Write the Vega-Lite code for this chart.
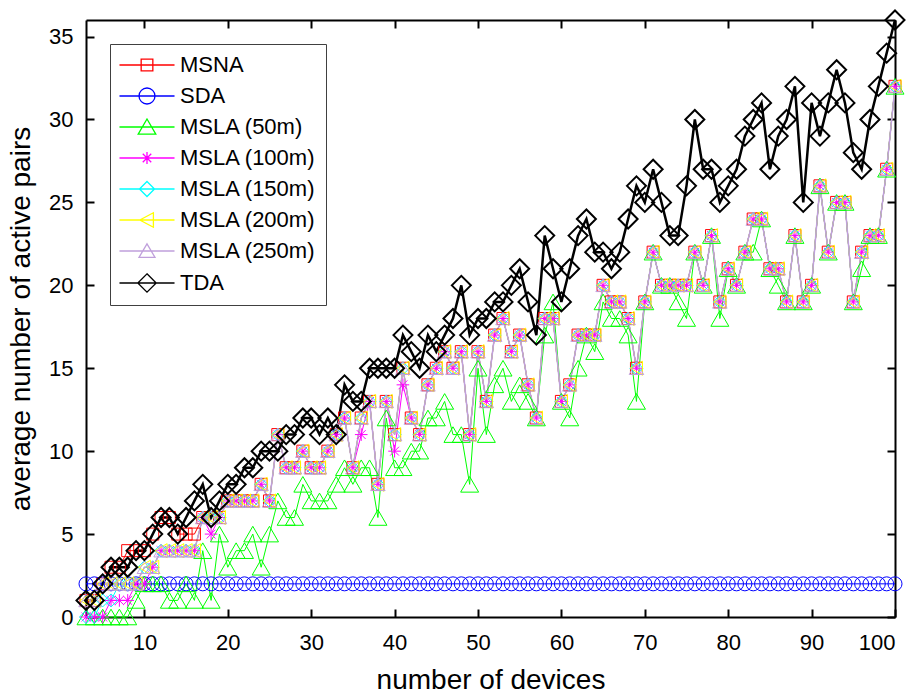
{
  "$schema": "https://vega.github.io/schema/vega-lite/v6.json",
  "width": 809,
  "height": 597,
  "autosize": {"type": "none"},
  "padding": {"left": 86, "top": 20, "right": 26, "bottom": 77},
  "background": "white",
  "config": {
    "view": {"stroke": null},
    "font": "Liberation Sans",
    "axis": {
      "domainColor": "black", "domainWidth": 2, "tickColor": "black", "tickWidth": 2, "tickSize": -8,
      "labelColor": "black", "labelFontSize": 22, "labelFont": "Liberation Sans", "grid": false,
      "titleFont": "Liberation Sans", "titleFontSize": 28, "titleFontWeight": "normal", "titleColor": "black"
    },
    "legend": {
      "orient": "none", "legendX": 24, "legendY": 24, "direction": "vertical",
      "labelFontSize": 22, "labelFont": "Liberation Sans", "labelColor": "black", "labelLimit": 400,
      "symbolSize": 256, "symbolOffset": 16, "labelOffset": 22, "padding": 10, "rowPadding": 9,
      "fillColor": "white", "strokeColor": "#404040", "symbolStrokeWidth": 1.3, "symbolOpacity": 1
    }
  },
  "data": {"values": [
{"n":3,"s":"MSNA","v":1},{"n":4,"s":"MSNA","v":1},{"n":5,"s":"MSNA","v":2},{"n":6,"s":"MSNA","v":3},{"n":7,"s":"MSNA","v":3},{"n":8,"s":"MSNA","v":4},{"n":9,"s":"MSNA","v":4},{"n":10,"s":"MSNA","v":4},{"n":11,"s":"MSNA","v":5},{"n":12,"s":"MSNA","v":6},{"n":13,"s":"MSNA","v":6},{"n":14,"s":"MSNA","v":5},{"n":15,"s":"MSNA","v":5},{"n":16,"s":"MSNA","v":5},{"n":17,"s":"MSNA","v":6},{"n":18,"s":"MSNA","v":6},{"n":19,"s":"MSNA","v":6},{"n":20,"s":"MSNA","v":7},{"n":21,"s":"MSNA","v":7},{"n":22,"s":"MSNA","v":7},{"n":23,"s":"MSNA","v":7},{"n":24,"s":"MSNA","v":8},{"n":25,"s":"MSNA","v":7},{"n":26,"s":"MSNA","v":11},{"n":27,"s":"MSNA","v":9},{"n":28,"s":"MSNA","v":9},{"n":29,"s":"MSNA","v":10},{"n":30,"s":"MSNA","v":9},{"n":31,"s":"MSNA","v":9},{"n":32,"s":"MSNA","v":10},{"n":33,"s":"MSNA","v":11},{"n":34,"s":"MSNA","v":12},{"n":35,"s":"MSNA","v":9},{"n":36,"s":"MSNA","v":12},{"n":37,"s":"MSNA","v":13},{"n":38,"s":"MSNA","v":8},{"n":39,"s":"MSNA","v":13},{"n":40,"s":"MSNA","v":11},{"n":41,"s":"MSNA","v":15},{"n":42,"s":"MSNA","v":12},{"n":43,"s":"MSNA","v":11},{"n":44,"s":"MSNA","v":14},{"n":45,"s":"MSNA","v":15},{"n":46,"s":"MSNA","v":16},{"n":47,"s":"MSNA","v":15},{"n":48,"s":"MSNA","v":16},{"n":49,"s":"MSNA","v":11},{"n":50,"s":"MSNA","v":16},{"n":51,"s":"MSNA","v":13},{"n":52,"s":"MSNA","v":17},{"n":53,"s":"MSNA","v":18},{"n":54,"s":"MSNA","v":16},{"n":55,"s":"MSNA","v":17},{"n":56,"s":"MSNA","v":14},{"n":57,"s":"MSNA","v":12},{"n":58,"s":"MSNA","v":18},{"n":59,"s":"MSNA","v":18},{"n":60,"s":"MSNA","v":13},{"n":61,"s":"MSNA","v":14},{"n":62,"s":"MSNA","v":17},{"n":63,"s":"MSNA","v":17},{"n":64,"s":"MSNA","v":17},{"n":65,"s":"MSNA","v":20},{"n":66,"s":"MSNA","v":19},{"n":67,"s":"MSNA","v":19},{"n":68,"s":"MSNA","v":18},{"n":69,"s":"MSNA","v":15},{"n":70,"s":"MSNA","v":19},{"n":71,"s":"MSNA","v":22},{"n":72,"s":"MSNA","v":20},{"n":73,"s":"MSNA","v":20},{"n":74,"s":"MSNA","v":20},{"n":75,"s":"MSNA","v":20},{"n":76,"s":"MSNA","v":22},{"n":77,"s":"MSNA","v":20},{"n":78,"s":"MSNA","v":23},{"n":79,"s":"MSNA","v":19},{"n":80,"s":"MSNA","v":21},{"n":81,"s":"MSNA","v":20},{"n":82,"s":"MSNA","v":22},{"n":83,"s":"MSNA","v":24},{"n":84,"s":"MSNA","v":24},{"n":85,"s":"MSNA","v":21},{"n":86,"s":"MSNA","v":21},{"n":87,"s":"MSNA","v":19},{"n":88,"s":"MSNA","v":23},{"n":89,"s":"MSNA","v":19},{"n":90,"s":"MSNA","v":20},{"n":91,"s":"MSNA","v":26},{"n":92,"s":"MSNA","v":22},{"n":93,"s":"MSNA","v":25},{"n":94,"s":"MSNA","v":25},{"n":95,"s":"MSNA","v":19},{"n":96,"s":"MSNA","v":22},{"n":97,"s":"MSNA","v":23},{"n":98,"s":"MSNA","v":23},{"n":99,"s":"MSNA","v":27},{"n":100,"s":"MSNA","v":32},
{"n":3,"s":"SDA","v":2},{"n":4,"s":"SDA","v":2},{"n":5,"s":"SDA","v":2},{"n":6,"s":"SDA","v":2},{"n":7,"s":"SDA","v":2},{"n":8,"s":"SDA","v":2},{"n":9,"s":"SDA","v":2},{"n":10,"s":"SDA","v":2},{"n":11,"s":"SDA","v":2},{"n":12,"s":"SDA","v":2},{"n":13,"s":"SDA","v":2},{"n":14,"s":"SDA","v":2},{"n":15,"s":"SDA","v":2},{"n":16,"s":"SDA","v":2},{"n":17,"s":"SDA","v":2},{"n":18,"s":"SDA","v":2},{"n":19,"s":"SDA","v":2},{"n":20,"s":"SDA","v":2},{"n":21,"s":"SDA","v":2},{"n":22,"s":"SDA","v":2},{"n":23,"s":"SDA","v":2},{"n":24,"s":"SDA","v":2},{"n":25,"s":"SDA","v":2},{"n":26,"s":"SDA","v":2},{"n":27,"s":"SDA","v":2},{"n":28,"s":"SDA","v":2},{"n":29,"s":"SDA","v":2},{"n":30,"s":"SDA","v":2},{"n":31,"s":"SDA","v":2},{"n":32,"s":"SDA","v":2},{"n":33,"s":"SDA","v":2},{"n":34,"s":"SDA","v":2},{"n":35,"s":"SDA","v":2},{"n":36,"s":"SDA","v":2},{"n":37,"s":"SDA","v":2},{"n":38,"s":"SDA","v":2},{"n":39,"s":"SDA","v":2},{"n":40,"s":"SDA","v":2},{"n":41,"s":"SDA","v":2},{"n":42,"s":"SDA","v":2},{"n":43,"s":"SDA","v":2},{"n":44,"s":"SDA","v":2},{"n":45,"s":"SDA","v":2},{"n":46,"s":"SDA","v":2},{"n":47,"s":"SDA","v":2},{"n":48,"s":"SDA","v":2},{"n":49,"s":"SDA","v":2},{"n":50,"s":"SDA","v":2},{"n":51,"s":"SDA","v":2},{"n":52,"s":"SDA","v":2},{"n":53,"s":"SDA","v":2},{"n":54,"s":"SDA","v":2},{"n":55,"s":"SDA","v":2},{"n":56,"s":"SDA","v":2},{"n":57,"s":"SDA","v":2},{"n":58,"s":"SDA","v":2},{"n":59,"s":"SDA","v":2},{"n":60,"s":"SDA","v":2},{"n":61,"s":"SDA","v":2},{"n":62,"s":"SDA","v":2},{"n":63,"s":"SDA","v":2},{"n":64,"s":"SDA","v":2},{"n":65,"s":"SDA","v":2},{"n":66,"s":"SDA","v":2},{"n":67,"s":"SDA","v":2},{"n":68,"s":"SDA","v":2},{"n":69,"s":"SDA","v":2},{"n":70,"s":"SDA","v":2},{"n":71,"s":"SDA","v":2},{"n":72,"s":"SDA","v":2},{"n":73,"s":"SDA","v":2},{"n":74,"s":"SDA","v":2},{"n":75,"s":"SDA","v":2},{"n":76,"s":"SDA","v":2},{"n":77,"s":"SDA","v":2},{"n":78,"s":"SDA","v":2},{"n":79,"s":"SDA","v":2},{"n":80,"s":"SDA","v":2},{"n":81,"s":"SDA","v":2},{"n":82,"s":"SDA","v":2},{"n":83,"s":"SDA","v":2},{"n":84,"s":"SDA","v":2},{"n":85,"s":"SDA","v":2},{"n":86,"s":"SDA","v":2},{"n":87,"s":"SDA","v":2},{"n":88,"s":"SDA","v":2},{"n":89,"s":"SDA","v":2},{"n":90,"s":"SDA","v":2},{"n":91,"s":"SDA","v":2},{"n":92,"s":"SDA","v":2},{"n":93,"s":"SDA","v":2},{"n":94,"s":"SDA","v":2},{"n":95,"s":"SDA","v":2},{"n":96,"s":"SDA","v":2},{"n":97,"s":"SDA","v":2},{"n":98,"s":"SDA","v":2},{"n":99,"s":"SDA","v":2},{"n":100,"s":"SDA","v":2},
{"n":3,"s":"MSLA (50m)","v":0},{"n":4,"s":"MSLA (50m)","v":0},{"n":5,"s":"MSLA (50m)","v":0},{"n":6,"s":"MSLA (50m)","v":0},{"n":7,"s":"MSLA (50m)","v":0},{"n":8,"s":"MSLA (50m)","v":0},{"n":9,"s":"MSLA (50m)","v":1},{"n":10,"s":"MSLA (50m)","v":2},{"n":11,"s":"MSLA (50m)","v":2},{"n":12,"s":"MSLA (50m)","v":2},{"n":13,"s":"MSLA (50m)","v":1},{"n":14,"s":"MSLA (50m)","v":1},{"n":15,"s":"MSLA (50m)","v":2},{"n":16,"s":"MSLA (50m)","v":1},{"n":17,"s":"MSLA (50m)","v":4},{"n":18,"s":"MSLA (50m)","v":1},{"n":19,"s":"MSLA (50m)","v":5},{"n":20,"s":"MSLA (50m)","v":3},{"n":21,"s":"MSLA (50m)","v":4},{"n":22,"s":"MSLA (50m)","v":4},{"n":23,"s":"MSLA (50m)","v":5},{"n":24,"s":"MSLA (50m)","v":3},{"n":25,"s":"MSLA (50m)","v":5},{"n":26,"s":"MSLA (50m)","v":7},{"n":27,"s":"MSLA (50m)","v":6},{"n":28,"s":"MSLA (50m)","v":6},{"n":29,"s":"MSLA (50m)","v":8},{"n":30,"s":"MSLA (50m)","v":7},{"n":31,"s":"MSLA (50m)","v":7},{"n":32,"s":"MSLA (50m)","v":7},{"n":33,"s":"MSLA (50m)","v":8},{"n":34,"s":"MSLA (50m)","v":9},{"n":35,"s":"MSLA (50m)","v":8},{"n":36,"s":"MSLA (50m)","v":9},{"n":37,"s":"MSLA (50m)","v":9},{"n":38,"s":"MSLA (50m)","v":6},{"n":39,"s":"MSLA (50m)","v":12},{"n":40,"s":"MSLA (50m)","v":9},{"n":41,"s":"MSLA (50m)","v":9},{"n":42,"s":"MSLA (50m)","v":10},{"n":43,"s":"MSLA (50m)","v":10},{"n":44,"s":"MSLA (50m)","v":12},{"n":45,"s":"MSLA (50m)","v":12},{"n":46,"s":"MSLA (50m)","v":13},{"n":47,"s":"MSLA (50m)","v":11},{"n":48,"s":"MSLA (50m)","v":11},{"n":49,"s":"MSLA (50m)","v":8},{"n":50,"s":"MSLA (50m)","v":15},{"n":51,"s":"MSLA (50m)","v":11},{"n":52,"s":"MSLA (50m)","v":14},{"n":53,"s":"MSLA (50m)","v":15},{"n":54,"s":"MSLA (50m)","v":13},{"n":55,"s":"MSLA (50m)","v":14},{"n":56,"s":"MSLA (50m)","v":13},{"n":57,"s":"MSLA (50m)","v":12},{"n":58,"s":"MSLA (50m)","v":17},{"n":59,"s":"MSLA (50m)","v":19},{"n":60,"s":"MSLA (50m)","v":13},{"n":61,"s":"MSLA (50m)","v":12},{"n":62,"s":"MSLA (50m)","v":15},{"n":63,"s":"MSLA (50m)","v":17},{"n":64,"s":"MSLA (50m)","v":16},{"n":65,"s":"MSLA (50m)","v":19},{"n":66,"s":"MSLA (50m)","v":18},{"n":67,"s":"MSLA (50m)","v":18},{"n":68,"s":"MSLA (50m)","v":17},{"n":69,"s":"MSLA (50m)","v":13},{"n":70,"s":"MSLA (50m)","v":19},{"n":71,"s":"MSLA (50m)","v":22},{"n":72,"s":"MSLA (50m)","v":20},{"n":73,"s":"MSLA (50m)","v":20},{"n":74,"s":"MSLA (50m)","v":19},{"n":75,"s":"MSLA (50m)","v":18},{"n":76,"s":"MSLA (50m)","v":22},{"n":77,"s":"MSLA (50m)","v":20},{"n":78,"s":"MSLA (50m)","v":23},{"n":79,"s":"MSLA (50m)","v":18},{"n":80,"s":"MSLA (50m)","v":21},{"n":81,"s":"MSLA (50m)","v":20},{"n":82,"s":"MSLA (50m)","v":22},{"n":83,"s":"MSLA (50m)","v":22},{"n":84,"s":"MSLA (50m)","v":24},{"n":85,"s":"MSLA (50m)","v":21},{"n":86,"s":"MSLA (50m)","v":20},{"n":87,"s":"MSLA (50m)","v":19},{"n":88,"s":"MSLA (50m)","v":23},{"n":89,"s":"MSLA (50m)","v":19},{"n":90,"s":"MSLA (50m)","v":20},{"n":91,"s":"MSLA (50m)","v":26},{"n":92,"s":"MSLA (50m)","v":22},{"n":93,"s":"MSLA (50m)","v":25},{"n":94,"s":"MSLA (50m)","v":25},{"n":95,"s":"MSLA (50m)","v":19},{"n":96,"s":"MSLA (50m)","v":21},{"n":97,"s":"MSLA (50m)","v":23},{"n":98,"s":"MSLA (50m)","v":23},{"n":99,"s":"MSLA (50m)","v":27},{"n":100,"s":"MSLA (50m)","v":32},
{"n":3,"s":"MSLA (100m)","v":0},{"n":4,"s":"MSLA (100m)","v":0},{"n":5,"s":"MSLA (100m)","v":0},{"n":6,"s":"MSLA (100m)","v":1},{"n":7,"s":"MSLA (100m)","v":1},{"n":8,"s":"MSLA (100m)","v":1},{"n":9,"s":"MSLA (100m)","v":2},{"n":10,"s":"MSLA (100m)","v":2},{"n":11,"s":"MSLA (100m)","v":3},{"n":12,"s":"MSLA (100m)","v":4},{"n":13,"s":"MSLA (100m)","v":4},{"n":14,"s":"MSLA (100m)","v":4},{"n":15,"s":"MSLA (100m)","v":4},{"n":16,"s":"MSLA (100m)","v":4},{"n":17,"s":"MSLA (100m)","v":6},{"n":18,"s":"MSLA (100m)","v":5},{"n":19,"s":"MSLA (100m)","v":6},{"n":20,"s":"MSLA (100m)","v":7},{"n":21,"s":"MSLA (100m)","v":7},{"n":22,"s":"MSLA (100m)","v":7},{"n":23,"s":"MSLA (100m)","v":7},{"n":24,"s":"MSLA (100m)","v":8},{"n":25,"s":"MSLA (100m)","v":7},{"n":26,"s":"MSLA (100m)","v":11},{"n":27,"s":"MSLA (100m)","v":9},{"n":28,"s":"MSLA (100m)","v":9},{"n":29,"s":"MSLA (100m)","v":10},{"n":30,"s":"MSLA (100m)","v":9},{"n":31,"s":"MSLA (100m)","v":9},{"n":32,"s":"MSLA (100m)","v":10},{"n":33,"s":"MSLA (100m)","v":11},{"n":34,"s":"MSLA (100m)","v":12},{"n":35,"s":"MSLA (100m)","v":9},{"n":36,"s":"MSLA (100m)","v":11},{"n":37,"s":"MSLA (100m)","v":13},{"n":38,"s":"MSLA (100m)","v":8},{"n":39,"s":"MSLA (100m)","v":13},{"n":40,"s":"MSLA (100m)","v":10},{"n":41,"s":"MSLA (100m)","v":14},{"n":42,"s":"MSLA (100m)","v":12},{"n":43,"s":"MSLA (100m)","v":11},{"n":44,"s":"MSLA (100m)","v":14},{"n":45,"s":"MSLA (100m)","v":15},{"n":46,"s":"MSLA (100m)","v":16},{"n":47,"s":"MSLA (100m)","v":15},{"n":48,"s":"MSLA (100m)","v":16},{"n":49,"s":"MSLA (100m)","v":11},{"n":50,"s":"MSLA (100m)","v":16},{"n":51,"s":"MSLA (100m)","v":13},{"n":52,"s":"MSLA (100m)","v":17},{"n":53,"s":"MSLA (100m)","v":18},{"n":54,"s":"MSLA (100m)","v":16},{"n":55,"s":"MSLA (100m)","v":17},{"n":56,"s":"MSLA (100m)","v":14},{"n":57,"s":"MSLA (100m)","v":12},{"n":58,"s":"MSLA (100m)","v":18},{"n":59,"s":"MSLA (100m)","v":18},{"n":60,"s":"MSLA (100m)","v":13},{"n":61,"s":"MSLA (100m)","v":14},{"n":62,"s":"MSLA (100m)","v":17},{"n":63,"s":"MSLA (100m)","v":17},{"n":64,"s":"MSLA (100m)","v":17},{"n":65,"s":"MSLA (100m)","v":20},{"n":66,"s":"MSLA (100m)","v":19},{"n":67,"s":"MSLA (100m)","v":19},{"n":68,"s":"MSLA (100m)","v":18},{"n":69,"s":"MSLA (100m)","v":15},{"n":70,"s":"MSLA (100m)","v":19},{"n":71,"s":"MSLA (100m)","v":22},{"n":72,"s":"MSLA (100m)","v":20},{"n":73,"s":"MSLA (100m)","v":20},{"n":74,"s":"MSLA (100m)","v":20},{"n":75,"s":"MSLA (100m)","v":20},{"n":76,"s":"MSLA (100m)","v":22},{"n":77,"s":"MSLA (100m)","v":20},{"n":78,"s":"MSLA (100m)","v":23},{"n":79,"s":"MSLA (100m)","v":19},{"n":80,"s":"MSLA (100m)","v":21},{"n":81,"s":"MSLA (100m)","v":20},{"n":82,"s":"MSLA (100m)","v":22},{"n":83,"s":"MSLA (100m)","v":24},{"n":84,"s":"MSLA (100m)","v":24},{"n":85,"s":"MSLA (100m)","v":21},{"n":86,"s":"MSLA (100m)","v":21},{"n":87,"s":"MSLA (100m)","v":19},{"n":88,"s":"MSLA (100m)","v":23},{"n":89,"s":"MSLA (100m)","v":19},{"n":90,"s":"MSLA (100m)","v":20},{"n":91,"s":"MSLA (100m)","v":26},{"n":92,"s":"MSLA (100m)","v":22},{"n":93,"s":"MSLA (100m)","v":25},{"n":94,"s":"MSLA (100m)","v":25},{"n":95,"s":"MSLA (100m)","v":19},{"n":96,"s":"MSLA (100m)","v":22},{"n":97,"s":"MSLA (100m)","v":23},{"n":98,"s":"MSLA (100m)","v":23},{"n":99,"s":"MSLA (100m)","v":27},{"n":100,"s":"MSLA (100m)","v":32},
{"n":3,"s":"MSLA (150m)","v":0},{"n":4,"s":"MSLA (150m)","v":0},{"n":5,"s":"MSLA (150m)","v":1},{"n":6,"s":"MSLA (150m)","v":1},{"n":7,"s":"MSLA (150m)","v":2},{"n":8,"s":"MSLA (150m)","v":2},{"n":9,"s":"MSLA (150m)","v":2},{"n":10,"s":"MSLA (150m)","v":3},{"n":11,"s":"MSLA (150m)","v":3},{"n":12,"s":"MSLA (150m)","v":4},{"n":13,"s":"MSLA (150m)","v":4},{"n":14,"s":"MSLA (150m)","v":4},{"n":15,"s":"MSLA (150m)","v":4},{"n":16,"s":"MSLA (150m)","v":4},{"n":17,"s":"MSLA (150m)","v":6},{"n":18,"s":"MSLA (150m)","v":6},{"n":19,"s":"MSLA (150m)","v":6},{"n":20,"s":"MSLA (150m)","v":7},{"n":21,"s":"MSLA (150m)","v":7},{"n":22,"s":"MSLA (150m)","v":7},{"n":23,"s":"MSLA (150m)","v":7},{"n":24,"s":"MSLA (150m)","v":8},{"n":25,"s":"MSLA (150m)","v":7},{"n":26,"s":"MSLA (150m)","v":11},{"n":27,"s":"MSLA (150m)","v":9},{"n":28,"s":"MSLA (150m)","v":9},{"n":29,"s":"MSLA (150m)","v":10},{"n":30,"s":"MSLA (150m)","v":9},{"n":31,"s":"MSLA (150m)","v":9},{"n":32,"s":"MSLA (150m)","v":10},{"n":33,"s":"MSLA (150m)","v":11},{"n":34,"s":"MSLA (150m)","v":12},{"n":35,"s":"MSLA (150m)","v":9},{"n":36,"s":"MSLA (150m)","v":12},{"n":37,"s":"MSLA (150m)","v":13},{"n":38,"s":"MSLA (150m)","v":8},{"n":39,"s":"MSLA (150m)","v":13},{"n":40,"s":"MSLA (150m)","v":11},{"n":41,"s":"MSLA (150m)","v":15},{"n":42,"s":"MSLA (150m)","v":12},{"n":43,"s":"MSLA (150m)","v":11},{"n":44,"s":"MSLA (150m)","v":14},{"n":45,"s":"MSLA (150m)","v":15},{"n":46,"s":"MSLA (150m)","v":16},{"n":47,"s":"MSLA (150m)","v":15},{"n":48,"s":"MSLA (150m)","v":16},{"n":49,"s":"MSLA (150m)","v":11},{"n":50,"s":"MSLA (150m)","v":16},{"n":51,"s":"MSLA (150m)","v":13},{"n":52,"s":"MSLA (150m)","v":17},{"n":53,"s":"MSLA (150m)","v":18},{"n":54,"s":"MSLA (150m)","v":16},{"n":55,"s":"MSLA (150m)","v":17},{"n":56,"s":"MSLA (150m)","v":14},{"n":57,"s":"MSLA (150m)","v":12},{"n":58,"s":"MSLA (150m)","v":18},{"n":59,"s":"MSLA (150m)","v":18},{"n":60,"s":"MSLA (150m)","v":13},{"n":61,"s":"MSLA (150m)","v":14},{"n":62,"s":"MSLA (150m)","v":17},{"n":63,"s":"MSLA (150m)","v":17},{"n":64,"s":"MSLA (150m)","v":17},{"n":65,"s":"MSLA (150m)","v":20},{"n":66,"s":"MSLA (150m)","v":19},{"n":67,"s":"MSLA (150m)","v":19},{"n":68,"s":"MSLA (150m)","v":18},{"n":69,"s":"MSLA (150m)","v":15},{"n":70,"s":"MSLA (150m)","v":19},{"n":71,"s":"MSLA (150m)","v":22},{"n":72,"s":"MSLA (150m)","v":20},{"n":73,"s":"MSLA (150m)","v":20},{"n":74,"s":"MSLA (150m)","v":20},{"n":75,"s":"MSLA (150m)","v":20},{"n":76,"s":"MSLA (150m)","v":22},{"n":77,"s":"MSLA (150m)","v":20},{"n":78,"s":"MSLA (150m)","v":23},{"n":79,"s":"MSLA (150m)","v":19},{"n":80,"s":"MSLA (150m)","v":21},{"n":81,"s":"MSLA (150m)","v":20},{"n":82,"s":"MSLA (150m)","v":22},{"n":83,"s":"MSLA (150m)","v":24},{"n":84,"s":"MSLA (150m)","v":24},{"n":85,"s":"MSLA (150m)","v":21},{"n":86,"s":"MSLA (150m)","v":21},{"n":87,"s":"MSLA (150m)","v":19},{"n":88,"s":"MSLA (150m)","v":23},{"n":89,"s":"MSLA (150m)","v":19},{"n":90,"s":"MSLA (150m)","v":20},{"n":91,"s":"MSLA (150m)","v":26},{"n":92,"s":"MSLA (150m)","v":22},{"n":93,"s":"MSLA (150m)","v":25},{"n":94,"s":"MSLA (150m)","v":25},{"n":95,"s":"MSLA (150m)","v":19},{"n":96,"s":"MSLA (150m)","v":22},{"n":97,"s":"MSLA (150m)","v":23},{"n":98,"s":"MSLA (150m)","v":23},{"n":99,"s":"MSLA (150m)","v":27},{"n":100,"s":"MSLA (150m)","v":32},
{"n":3,"s":"MSLA (200m)","v":1},{"n":4,"s":"MSLA (200m)","v":1},{"n":5,"s":"MSLA (200m)","v":2},{"n":6,"s":"MSLA (200m)","v":2},{"n":7,"s":"MSLA (200m)","v":2},{"n":8,"s":"MSLA (200m)","v":2},{"n":9,"s":"MSLA (200m)","v":2},{"n":10,"s":"MSLA (200m)","v":3},{"n":11,"s":"MSLA (200m)","v":3},{"n":12,"s":"MSLA (200m)","v":4},{"n":13,"s":"MSLA (200m)","v":4},{"n":14,"s":"MSLA (200m)","v":4},{"n":15,"s":"MSLA (200m)","v":4},{"n":16,"s":"MSLA (200m)","v":4},{"n":17,"s":"MSLA (200m)","v":6},{"n":18,"s":"MSLA (200m)","v":6},{"n":19,"s":"MSLA (200m)","v":6},{"n":20,"s":"MSLA (200m)","v":7},{"n":21,"s":"MSLA (200m)","v":7},{"n":22,"s":"MSLA (200m)","v":7},{"n":23,"s":"MSLA (200m)","v":7},{"n":24,"s":"MSLA (200m)","v":8},{"n":25,"s":"MSLA (200m)","v":7},{"n":26,"s":"MSLA (200m)","v":11},{"n":27,"s":"MSLA (200m)","v":9},{"n":28,"s":"MSLA (200m)","v":9},{"n":29,"s":"MSLA (200m)","v":10},{"n":30,"s":"MSLA (200m)","v":9},{"n":31,"s":"MSLA (200m)","v":9},{"n":32,"s":"MSLA (200m)","v":10},{"n":33,"s":"MSLA (200m)","v":11},{"n":34,"s":"MSLA (200m)","v":12},{"n":35,"s":"MSLA (200m)","v":9},{"n":36,"s":"MSLA (200m)","v":12},{"n":37,"s":"MSLA (200m)","v":13},{"n":38,"s":"MSLA (200m)","v":8},{"n":39,"s":"MSLA (200m)","v":13},{"n":40,"s":"MSLA (200m)","v":11},{"n":41,"s":"MSLA (200m)","v":15},{"n":42,"s":"MSLA (200m)","v":12},{"n":43,"s":"MSLA (200m)","v":11},{"n":44,"s":"MSLA (200m)","v":14},{"n":45,"s":"MSLA (200m)","v":15},{"n":46,"s":"MSLA (200m)","v":16},{"n":47,"s":"MSLA (200m)","v":15},{"n":48,"s":"MSLA (200m)","v":16},{"n":49,"s":"MSLA (200m)","v":11},{"n":50,"s":"MSLA (200m)","v":16},{"n":51,"s":"MSLA (200m)","v":13},{"n":52,"s":"MSLA (200m)","v":17},{"n":53,"s":"MSLA (200m)","v":18},{"n":54,"s":"MSLA (200m)","v":16},{"n":55,"s":"MSLA (200m)","v":17},{"n":56,"s":"MSLA (200m)","v":14},{"n":57,"s":"MSLA (200m)","v":12},{"n":58,"s":"MSLA (200m)","v":18},{"n":59,"s":"MSLA (200m)","v":18},{"n":60,"s":"MSLA (200m)","v":13},{"n":61,"s":"MSLA (200m)","v":14},{"n":62,"s":"MSLA (200m)","v":17},{"n":63,"s":"MSLA (200m)","v":17},{"n":64,"s":"MSLA (200m)","v":17},{"n":65,"s":"MSLA (200m)","v":20},{"n":66,"s":"MSLA (200m)","v":19},{"n":67,"s":"MSLA (200m)","v":19},{"n":68,"s":"MSLA (200m)","v":18},{"n":69,"s":"MSLA (200m)","v":15},{"n":70,"s":"MSLA (200m)","v":19},{"n":71,"s":"MSLA (200m)","v":22},{"n":72,"s":"MSLA (200m)","v":20},{"n":73,"s":"MSLA (200m)","v":20},{"n":74,"s":"MSLA (200m)","v":20},{"n":75,"s":"MSLA (200m)","v":20},{"n":76,"s":"MSLA (200m)","v":22},{"n":77,"s":"MSLA (200m)","v":20},{"n":78,"s":"MSLA (200m)","v":23},{"n":79,"s":"MSLA (200m)","v":19},{"n":80,"s":"MSLA (200m)","v":21},{"n":81,"s":"MSLA (200m)","v":20},{"n":82,"s":"MSLA (200m)","v":22},{"n":83,"s":"MSLA (200m)","v":24},{"n":84,"s":"MSLA (200m)","v":24},{"n":85,"s":"MSLA (200m)","v":21},{"n":86,"s":"MSLA (200m)","v":21},{"n":87,"s":"MSLA (200m)","v":19},{"n":88,"s":"MSLA (200m)","v":23},{"n":89,"s":"MSLA (200m)","v":19},{"n":90,"s":"MSLA (200m)","v":20},{"n":91,"s":"MSLA (200m)","v":26},{"n":92,"s":"MSLA (200m)","v":22},{"n":93,"s":"MSLA (200m)","v":25},{"n":94,"s":"MSLA (200m)","v":25},{"n":95,"s":"MSLA (200m)","v":19},{"n":96,"s":"MSLA (200m)","v":22},{"n":97,"s":"MSLA (200m)","v":23},{"n":98,"s":"MSLA (200m)","v":23},{"n":99,"s":"MSLA (200m)","v":27},{"n":100,"s":"MSLA (200m)","v":32},
{"n":3,"s":"MSLA (250m)","v":1},{"n":4,"s":"MSLA (250m)","v":1},{"n":5,"s":"MSLA (250m)","v":2},{"n":6,"s":"MSLA (250m)","v":2},{"n":7,"s":"MSLA (250m)","v":2},{"n":8,"s":"MSLA (250m)","v":2},{"n":9,"s":"MSLA (250m)","v":2},{"n":10,"s":"MSLA (250m)","v":3},{"n":11,"s":"MSLA (250m)","v":3},{"n":12,"s":"MSLA (250m)","v":4},{"n":13,"s":"MSLA (250m)","v":4},{"n":14,"s":"MSLA (250m)","v":4},{"n":15,"s":"MSLA (250m)","v":4},{"n":16,"s":"MSLA (250m)","v":4},{"n":17,"s":"MSLA (250m)","v":6},{"n":18,"s":"MSLA (250m)","v":6},{"n":19,"s":"MSLA (250m)","v":6},{"n":20,"s":"MSLA (250m)","v":7},{"n":21,"s":"MSLA (250m)","v":7},{"n":22,"s":"MSLA (250m)","v":7},{"n":23,"s":"MSLA (250m)","v":7},{"n":24,"s":"MSLA (250m)","v":8},{"n":25,"s":"MSLA (250m)","v":7},{"n":26,"s":"MSLA (250m)","v":11},{"n":27,"s":"MSLA (250m)","v":9},{"n":28,"s":"MSLA (250m)","v":9},{"n":29,"s":"MSLA (250m)","v":10},{"n":30,"s":"MSLA (250m)","v":9},{"n":31,"s":"MSLA (250m)","v":9},{"n":32,"s":"MSLA (250m)","v":10},{"n":33,"s":"MSLA (250m)","v":11},{"n":34,"s":"MSLA (250m)","v":12},{"n":35,"s":"MSLA (250m)","v":9},{"n":36,"s":"MSLA (250m)","v":12},{"n":37,"s":"MSLA (250m)","v":13},{"n":38,"s":"MSLA (250m)","v":8},{"n":39,"s":"MSLA (250m)","v":13},{"n":40,"s":"MSLA (250m)","v":11},{"n":41,"s":"MSLA (250m)","v":15},{"n":42,"s":"MSLA (250m)","v":12},{"n":43,"s":"MSLA (250m)","v":11},{"n":44,"s":"MSLA (250m)","v":14},{"n":45,"s":"MSLA (250m)","v":15},{"n":46,"s":"MSLA (250m)","v":16},{"n":47,"s":"MSLA (250m)","v":15},{"n":48,"s":"MSLA (250m)","v":16},{"n":49,"s":"MSLA (250m)","v":11},{"n":50,"s":"MSLA (250m)","v":16},{"n":51,"s":"MSLA (250m)","v":13},{"n":52,"s":"MSLA (250m)","v":17},{"n":53,"s":"MSLA (250m)","v":18},{"n":54,"s":"MSLA (250m)","v":16},{"n":55,"s":"MSLA (250m)","v":17},{"n":56,"s":"MSLA (250m)","v":14},{"n":57,"s":"MSLA (250m)","v":12},{"n":58,"s":"MSLA (250m)","v":18},{"n":59,"s":"MSLA (250m)","v":18},{"n":60,"s":"MSLA (250m)","v":13},{"n":61,"s":"MSLA (250m)","v":14},{"n":62,"s":"MSLA (250m)","v":17},{"n":63,"s":"MSLA (250m)","v":17},{"n":64,"s":"MSLA (250m)","v":17},{"n":65,"s":"MSLA (250m)","v":20},{"n":66,"s":"MSLA (250m)","v":19},{"n":67,"s":"MSLA (250m)","v":19},{"n":68,"s":"MSLA (250m)","v":18},{"n":69,"s":"MSLA (250m)","v":15},{"n":70,"s":"MSLA (250m)","v":19},{"n":71,"s":"MSLA (250m)","v":22},{"n":72,"s":"MSLA (250m)","v":20},{"n":73,"s":"MSLA (250m)","v":20},{"n":74,"s":"MSLA (250m)","v":20},{"n":75,"s":"MSLA (250m)","v":20},{"n":76,"s":"MSLA (250m)","v":22},{"n":77,"s":"MSLA (250m)","v":20},{"n":78,"s":"MSLA (250m)","v":23},{"n":79,"s":"MSLA (250m)","v":19},{"n":80,"s":"MSLA (250m)","v":21},{"n":81,"s":"MSLA (250m)","v":20},{"n":82,"s":"MSLA (250m)","v":22},{"n":83,"s":"MSLA (250m)","v":24},{"n":84,"s":"MSLA (250m)","v":24},{"n":85,"s":"MSLA (250m)","v":21},{"n":86,"s":"MSLA (250m)","v":21},{"n":87,"s":"MSLA (250m)","v":19},{"n":88,"s":"MSLA (250m)","v":23},{"n":89,"s":"MSLA (250m)","v":19},{"n":90,"s":"MSLA (250m)","v":20},{"n":91,"s":"MSLA (250m)","v":26},{"n":92,"s":"MSLA (250m)","v":22},{"n":93,"s":"MSLA (250m)","v":25},{"n":94,"s":"MSLA (250m)","v":25},{"n":95,"s":"MSLA (250m)","v":19},{"n":96,"s":"MSLA (250m)","v":22},{"n":97,"s":"MSLA (250m)","v":23},{"n":98,"s":"MSLA (250m)","v":23},{"n":99,"s":"MSLA (250m)","v":27},{"n":100,"s":"MSLA (250m)","v":32},
{"n":3,"s":"TDA","v":1},{"n":4,"s":"TDA","v":1},{"n":5,"s":"TDA","v":2},{"n":6,"s":"TDA","v":3},{"n":7,"s":"TDA","v":3},{"n":8,"s":"TDA","v":3},{"n":9,"s":"TDA","v":4},{"n":10,"s":"TDA","v":4},{"n":11,"s":"TDA","v":5},{"n":12,"s":"TDA","v":6},{"n":13,"s":"TDA","v":6},{"n":14,"s":"TDA","v":5},{"n":15,"s":"TDA","v":6},{"n":16,"s":"TDA","v":7},{"n":17,"s":"TDA","v":8},{"n":18,"s":"TDA","v":6},{"n":19,"s":"TDA","v":7},{"n":20,"s":"TDA","v":8},{"n":21,"s":"TDA","v":8},{"n":22,"s":"TDA","v":9},{"n":23,"s":"TDA","v":9},{"n":24,"s":"TDA","v":10},{"n":25,"s":"TDA","v":10},{"n":26,"s":"TDA","v":10},{"n":27,"s":"TDA","v":11},{"n":28,"s":"TDA","v":11},{"n":29,"s":"TDA","v":12},{"n":30,"s":"TDA","v":12},{"n":31,"s":"TDA","v":11},{"n":32,"s":"TDA","v":12},{"n":33,"s":"TDA","v":11},{"n":34,"s":"TDA","v":14},{"n":35,"s":"TDA","v":13},{"n":36,"s":"TDA","v":13},{"n":37,"s":"TDA","v":15},{"n":38,"s":"TDA","v":15},{"n":39,"s":"TDA","v":15},{"n":40,"s":"TDA","v":15},{"n":41,"s":"TDA","v":17},{"n":42,"s":"TDA","v":16},{"n":43,"s":"TDA","v":15},{"n":44,"s":"TDA","v":17},{"n":45,"s":"TDA","v":16},{"n":46,"s":"TDA","v":17},{"n":47,"s":"TDA","v":18},{"n":48,"s":"TDA","v":20},{"n":49,"s":"TDA","v":17},{"n":50,"s":"TDA","v":18},{"n":51,"s":"TDA","v":18},{"n":52,"s":"TDA","v":19},{"n":53,"s":"TDA","v":19},{"n":54,"s":"TDA","v":20},{"n":55,"s":"TDA","v":21},{"n":56,"s":"TDA","v":19},{"n":57,"s":"TDA","v":17},{"n":58,"s":"TDA","v":23},{"n":59,"s":"TDA","v":21},{"n":60,"s":"TDA","v":19},{"n":61,"s":"TDA","v":21},{"n":62,"s":"TDA","v":23},{"n":63,"s":"TDA","v":24},{"n":64,"s":"TDA","v":22},{"n":65,"s":"TDA","v":22},{"n":66,"s":"TDA","v":21},{"n":67,"s":"TDA","v":22},{"n":68,"s":"TDA","v":24},{"n":69,"s":"TDA","v":26},{"n":70,"s":"TDA","v":25},{"n":71,"s":"TDA","v":27},{"n":72,"s":"TDA","v":25},{"n":73,"s":"TDA","v":23},{"n":74,"s":"TDA","v":23},{"n":75,"s":"TDA","v":26},{"n":76,"s":"TDA","v":30},{"n":77,"s":"TDA","v":27},{"n":78,"s":"TDA","v":27},{"n":79,"s":"TDA","v":25},{"n":80,"s":"TDA","v":26},{"n":81,"s":"TDA","v":27},{"n":82,"s":"TDA","v":29},{"n":83,"s":"TDA","v":30},{"n":84,"s":"TDA","v":31},{"n":85,"s":"TDA","v":27},{"n":86,"s":"TDA","v":29},{"n":87,"s":"TDA","v":30},{"n":88,"s":"TDA","v":32},{"n":89,"s":"TDA","v":25},{"n":90,"s":"TDA","v":31},{"n":91,"s":"TDA","v":29},{"n":92,"s":"TDA","v":31},{"n":93,"s":"TDA","v":33},{"n":94,"s":"TDA","v":31},{"n":95,"s":"TDA","v":28},{"n":96,"s":"TDA","v":27},{"n":97,"s":"TDA","v":30},{"n":98,"s":"TDA","v":32},{"n":99,"s":"TDA","v":34},{"n":100,"s":"TDA","v":36}
  ]},
  "layer": [
    {
      "mark": {"type": "line", "clip": false},
      "encoding": {
        "x": {"field": "n", "type": "quantitative",
              "scale": {"domain": [3, 100], "nice": false, "zero": false},
              "axis": {"orient": "bottom", "values": [10,20,30,40,50,60,70,80,90,100], "title": "number of devices", "labelPadding": 23, "titlePadding": 13}},
        "y": {"field": "v", "type": "quantitative",
              "scale": {"domain": [0, 36], "nice": false, "zero": false},
              "axis": {"orient": "left", "values": [0,5,10,15,20,25,30,35], "title": "average number of active pairs", "labelPadding": 21, "titlePadding": 13}},
        "color": {"field": "s", "type": "nominal", "title": null,
                  "scale": {"domain": ["MSNA","SDA","MSLA (50m)","MSLA (100m)","MSLA (150m)","MSLA (200m)","MSLA (250m)","TDA"],
                            "range": ["#ff0000","#0000ff","#00ff00","#ff00ff","#00ffff","#ffff00","#c0a0dc","#000000"]}},
        "strokeWidth": {"condition": [{"test": "datum.s==='TDA'", "value": 2.5}, {"test": "datum.s==='MSLA (250m)'", "value": 1.5}], "value": 1}
      }
    },
    {
      "mark": {"type": "point", "filled": false, "clip": false, "opacity": 1},
      "encoding": {
        "x": {"field": "n", "type": "quantitative",
              "axis": {"orient": "top", "values": [10,20,30,40,50,60,70,80,90,100], "labels": false, "title": null}},
        "y": {"field": "v", "type": "quantitative",
              "axis": {"orient": "right", "values": [0,5,10,15,20,25,30,35], "labels": false, "title": null}},
        "color": {"field": "s", "type": "nominal", "title": null},
        "shape": {"condition": [
                   {"test": "datum.s==='MSNA'", "value": "square"},
                   {"test": "datum.s==='SDA'", "value": "circle"},
                   {"test": "datum.s==='MSLA (50m)'", "value": "triangle-up"},
                   {"test": "datum.s==='MSLA (100m)'", "value": "M-1,0H1M0,-1V1M-0.7,-0.7L0.7,0.7M-0.7,0.7L0.7,-0.7"},
                   {"test": "datum.s==='MSLA (150m)'", "value": "diamond"},
                   {"test": "datum.s==='MSLA (200m)'", "value": "triangle-left"},
                   {"test": "datum.s==='MSLA (250m)'", "value": "triangle-up"}],
                  "value": "diamond"},
        "size": {"condition": [
                   {"test": "datum.s==='MSNA'", "value": 144},
                   {"test": "datum.s==='SDA'", "value": 196},
                   {"test": "datum.s==='MSLA (50m)'", "value": 324},
                   {"test": "datum.s==='MSLA (100m)'", "value": 160},
                   {"test": "datum.s==='MSLA (150m)'", "value": 169},
                   {"test": "datum.s==='MSLA (200m)'", "value": 196},
                   {"test": "datum.s==='MSLA (250m)'", "value": 210}],
                 "value": 361},
        "strokeWidth": {"condition": {"test": "datum.s==='TDA'", "value": 2}, "value": 1}
      }
    },
    {
      "transform": [{"filter": "false"}],
      "mark": {"type": "point", "filled": false, "clip": false},
      "encoding": {
        "color": {"field": "s", "type": "nominal", "title": null},
        "shape": {"field": "s", "type": "nominal", "title": null,
                  "scale": {"domain": ["MSNA","SDA","MSLA (50m)","MSLA (100m)","MSLA (150m)","MSLA (200m)","MSLA (250m)","TDA"],
                            "range": [
                              "M-3.44,0H3.44M-0.73,-0.73H0.73V0.73H-0.73Z",
                              "M-3.44,0H3.44M-1,0A1,1,0,1,1,1,0A1,1,0,1,1,-1,0Z",
                              "M-3.44,0H3.44M0,-1L1.1,0.9H-1.1Z",
                              "M-3.44,0H3.44M-0.75,0H0.75M0,-0.75V0.75M-0.53,-0.53L0.53,0.53M-0.53,0.53L0.53,-0.53",
                              "M-3.44,0H3.44M0,-0.94L0.94,0L0,0.94L-0.94,0Z",
                              "M-3.44,0H3.44M-0.9,0L0.8,-0.9V0.9Z",
                              "M-3.44,0H3.44M0,-0.9L1,0.8H-1Z",
                              "M-3.44,0H3.44M0,-1.15L1.15,0L0,1.15L-1.15,0Z"]}}
      }
    }
  ],
  "resolve": {"axis": {"x": "independent", "y": "independent"}}
}
